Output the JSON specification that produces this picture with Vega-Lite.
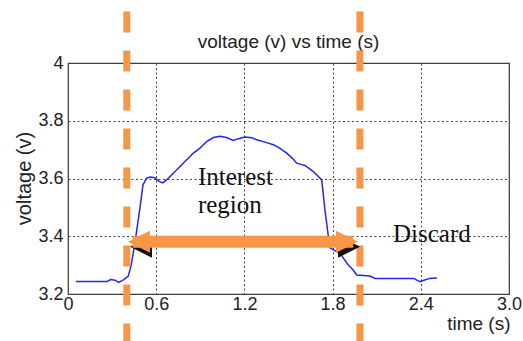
{
  "$schema": "https://vega.github.io/schema/vega-lite/v6.json",
  "autosize": "none",
  "width": 441,
  "height": 231,
  "padding": {"left": 68, "top": 63, "right": 14, "bottom": 47},
  "background": "white",
  "config": {
    "view": {"stroke": "#3a3a3a", "strokeWidth": 1.2},
    "axis": {
      "labelFont": "Liberation Sans",
      "titleFont": "Liberation Sans",
      "labelFontSize": 18,
      "titleFontSize": 19,
      "titleFontWeight": "normal",
      "labelColor": "#222",
      "titleColor": "#222",
      "domain": false,
      "ticks": false,
      "tickSize": 0,
      "gridColor": "#444",
      "gridDash": [2, 2.5],
      "gridWidth": 1,
      "gridOpacity": 1
    }
  },
  "datasets": {
    "signal": [
      {"t": 0.054, "v": 3.243}, {"t": 0.15, "v": 3.243}, {"t": 0.265, "v": 3.243},
      {"t": 0.29, "v": 3.25}, {"t": 0.32, "v": 3.248}, {"t": 0.345, "v": 3.24},
      {"t": 0.38, "v": 3.25}, {"t": 0.41, "v": 3.262}, {"t": 0.43, "v": 3.3},
      {"t": 0.456, "v": 3.38}, {"t": 0.49, "v": 3.5}, {"t": 0.51, "v": 3.578},
      {"t": 0.535, "v": 3.601}, {"t": 0.56, "v": 3.605}, {"t": 0.59, "v": 3.603},
      {"t": 0.62, "v": 3.59}, {"t": 0.645, "v": 3.585}, {"t": 0.67, "v": 3.595},
      {"t": 0.694, "v": 3.607}, {"t": 0.74, "v": 3.63}, {"t": 0.784, "v": 3.653},
      {"t": 0.853, "v": 3.688}, {"t": 0.9, "v": 3.706}, {"t": 0.943, "v": 3.728},
      {"t": 0.99, "v": 3.742}, {"t": 1.034, "v": 3.746}, {"t": 1.08, "v": 3.742},
      {"t": 1.124, "v": 3.732}, {"t": 1.16, "v": 3.738}, {"t": 1.204, "v": 3.744},
      {"t": 1.25, "v": 3.741}, {"t": 1.284, "v": 3.734}, {"t": 1.34, "v": 3.726},
      {"t": 1.397, "v": 3.717}, {"t": 1.44, "v": 3.705}, {"t": 1.488, "v": 3.688},
      {"t": 1.53, "v": 3.668}, {"t": 1.556, "v": 3.653}, {"t": 1.59, "v": 3.648},
      {"t": 1.612, "v": 3.645}, {"t": 1.669, "v": 3.624}, {"t": 1.726, "v": 3.595},
      {"t": 1.748, "v": 3.491}, {"t": 1.771, "v": 3.4}, {"t": 1.782, "v": 3.36},
      {"t": 1.81, "v": 3.352}, {"t": 1.85, "v": 3.341}, {"t": 1.907, "v": 3.3},
      {"t": 1.94, "v": 3.283}, {"t": 1.964, "v": 3.266}, {"t": 2.054, "v": 3.262},
      {"t": 2.088, "v": 3.254}, {"t": 2.2, "v": 3.254}, {"t": 2.35, "v": 3.254},
      {"t": 2.395, "v": 3.243}, {"t": 2.46, "v": 3.254}, {"t": 2.51, "v": 3.255}
    ],
    "vlines": [
      {"t": 0.4, "top": 4.178, "bottom": 3.0},
      {"t": 1.986, "top": 4.178, "bottom": 3.0}
    ],
    "arrow": [{"t1": 0.44, "t2": 1.94, "v": 3.381}],
    "heads": [
      {"t": 0.483, "v": 3.381, "dir": "left"},
      {"t": 1.898, "v": 3.381, "dir": "right"}
    ],
    "labels": [
      {"t": 0.884, "v": 3.578, "text": "Interest"},
      {"t": 0.884, "v": 3.481, "text": "region"},
      {"t": 2.211, "v": 3.381, "text": "Discard"}
    ],
    "title": [{"t": 1.5, "v": 4.053, "text": "voltage (v) vs time (s)"}]
  },
  "layer": [
    {
      "data": {"name": "signal"},
      "mark": {"type": "line", "color": "#2424ff", "strokeWidth": 1.5},
      "encoding": {
        "x": {
          "field": "t", "type": "quantitative",
          "scale": {"domain": [0, 3], "nice": false, "zero": false},
          "axis": {
            "values": [0, 0.6, 1.2, 1.8, 2.4, 3.0],
            "labelExpr": "datum.value == 0 ? '0' : format(datum.value, '.1f')",
            "labelPadding": 1,
            "labelFlush": false,
            "title": "time (s)",
            "titleAlign": "right",
            "titleAnchor": "end",
            "titleX": 442,
            "titleY": 35,
            "titleBaseline": "alphabetic"
          }
        },
        "y": {
          "field": "v", "type": "quantitative",
          "scale": {"domain": [3.2, 4], "nice": false, "zero": false},
          "axis": {
            "values": [3.2, 3.4, 3.6, 3.8, 4],
            "labelExpr": "datum.value == 4 ? '4' : format(datum.value, '.1f')",
            "labelPadding": 5,
            "labelFlush": false,
            "title": "voltage (v)",
            "titleFontSize": 20,
            "titleAngle": -90,
            "titleX": -44,
            "titleY": 115,
            "titleAlign": "center",
            "titleBaseline": "middle"
          }
        }
      }
    },
    {
      "data": {"name": "title"},
      "mark": {"type": "text", "font": "Liberation Sans", "fontSize": 19, "align": "center", "baseline": "alphabetic", "color": "#222"},
      "encoding": {
        "x": {"field": "t", "type": "quantitative"},
        "y": {"field": "v", "type": "quantitative"},
        "text": {"field": "text"}
      }
    },
    {
      "data": {"name": "vlines"},
      "mark": {"type": "rule", "color": "#F79646", "strokeWidth": 7, "strokeDash": [21, 18], "clip": false},
      "encoding": {
        "x": {"field": "t", "type": "quantitative"},
        "y": {"field": "top", "type": "quantitative"},
        "y2": {"field": "bottom"}
      }
    },
    {
      "data": {"name": "heads"},
      "mark": {"type": "point", "filled": true, "color": "#111", "opacity": 1, "size": 484, "yOffset": 5, "xOffset": 2},
      "encoding": {
        "x": {"field": "t", "type": "quantitative"},
        "y": {"field": "v", "type": "quantitative"},
        "shape": {
          "field": "dir", "type": "nominal",
          "scale": {"domain": ["left", "right"], "range": ["M-1,0L1,-1L1,1Z", "M1,0L-1,-1L-1,1Z"]},
          "legend": null
        }
      }
    },
    {
      "data": {"name": "arrow"},
      "mark": {"type": "rule", "color": "#F79646", "strokeWidth": 12},
      "encoding": {
        "x": {"field": "t1", "type": "quantitative"},
        "x2": {"field": "t2"},
        "y": {"field": "v", "type": "quantitative"}
      }
    },
    {
      "data": {"name": "heads"},
      "mark": {"type": "point", "filled": true, "color": "#F79646", "opacity": 1, "size": 484},
      "encoding": {
        "x": {"field": "t", "type": "quantitative"},
        "y": {"field": "v", "type": "quantitative"},
        "shape": {
          "field": "dir", "type": "nominal",
          "scale": {"domain": ["left", "right"], "range": ["M-1,0L1,-1L1,1Z", "M1,0L-1,-1L-1,1Z"]},
          "legend": null
        }
      }
    },
    {
      "data": {"name": "labels"},
      "mark": {"type": "text", "font": "Liberation Serif", "fontSize": 25, "align": "left", "baseline": "alphabetic", "color": "#111"},
      "encoding": {
        "x": {"field": "t", "type": "quantitative"},
        "y": {"field": "v", "type": "quantitative"},
        "text": {"field": "text"}
      }
    }
  ]
}
